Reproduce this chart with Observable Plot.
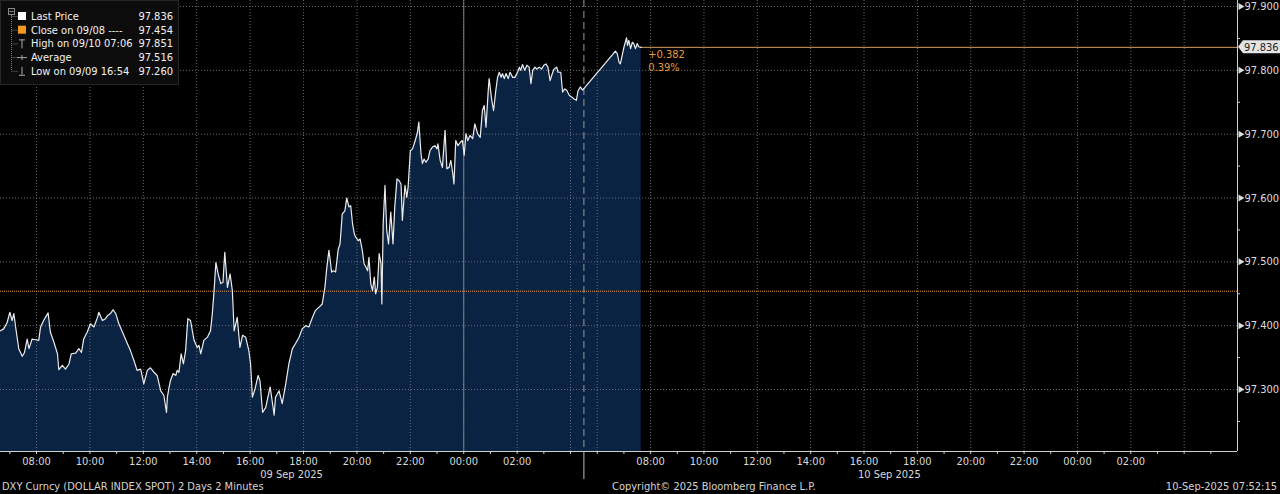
<!DOCTYPE html>
<html>
<head>
<meta charset="utf-8">
<script src="https://cdn.jsdelivr.net/npm/d3@7"></script>
<script src="https://cdn.jsdelivr.net/npm/@observablehq/plot@0.6"></script>
<style>
  html, body { margin:0; padding:0; background:#000; }
  body { width:1280px; height:494px; overflow:hidden; position:relative;
         font-family:"DejaVu Sans Condensed","DejaVu Sans",sans-serif; font-stretch:condensed; }
  #chart { position:absolute; left:0; top:0; }
  #chart svg { font-stretch:condensed; }
  #legend { position:absolute; left:0; top:0; font-stretch:condensed; }
  #footer { position:absolute; left:0; top:480px; width:1280px; height:14px; font-size:11px; color:#d4d4d4; line-height:14px; }
  #footer span { position:absolute; top:0; white-space:nowrap; }
</style>
</head>
<body>
<div id="chart"></div>
<svg id="legend" width="182" height="88"></svg>
<div id="footer"></div>
<script>
// ---- data: minutes since 09 Sep 2025 00:00 and DXY spot price ----
const times = [
 399,406,414,420,425,429,433,440,448,453,459,463,470,478,485,489,496,506,511,519,
 527,530,538,545,553,558,568,575,581,586,594,601,609,617,620,628,635,640,646,652,
 658,665,673,684,691,699,706,714,721,729,736,744,751,759,766,772,774,778,781,787,
 793,796,800,805,810,815,820,826,834,841,845,849,856,864,871,875,879,883,888,894,
 899,903,909,915,920,924,931,937,943,950,957,961,965,971,978,982,988,995,1000,1005,
 1014,1017,1025,1032,1040,1047,1055,1062,1070,1077,1085,1092,1100,1107,1115,1122,1128,1132,1137,1140,
 1143,1147,1152,1158,1162,1167,1173,1177,1182,1186,1190,1194,1197,1203,1207,1212,1216,1220,1224,1227,
 1231,1235,1239,1242,1246,1250,1254,1256,1259,1263,1267,1271,1276,1281,1285,1290,1295,1299,1302,1308,
 1312,1315,1320,1325,1331,1336,1339,1344,1347,1351,1355,1360,1364,1370,1375,1380,1382,1387,1392,1398,
 1402,1407,1411,1415,1418,1422,1427,1432,1437,1441,1445,1449,1454,1460,1465,1471,1477,1482,1486,1490,
 1495,1497,1503,1507,1512,1516,1520,1524,1527,1531,1535,1540,1544,1550,1555,1561,1565,1568,1572,1577,
 1582,1587,1591,1595,1600,1604,1610,1615,1620,1625,1629,1634,1640,1643,1649,1652,1658,1662,1667,1672,
 1677,1683,1688,1693,1697,1702,1707,
 1841,1845,1849,1852,1856,1860,1866,1868,1871,1875,1879,1882,1886,1890,1893,1899
];
const prices = [
 97.392,97.395,97.405,97.421,97.408,97.419,97.398,97.364,97.352,97.358,97.379,97.364,97.379,97.378,97.377,97.398,97.408,97.420,97.390,97.374,
 97.356,97.331,97.338,97.332,97.340,97.356,97.357,97.364,97.358,97.379,97.390,97.403,97.398,97.413,97.421,97.408,97.411,97.416,97.419,97.425,
 97.419,97.403,97.390,97.372,97.361,97.345,97.330,97.332,97.309,97.330,97.334,97.327,97.322,97.298,97.291,97.264,97.288,97.304,97.314,97.325,
 97.322,97.330,97.327,97.356,97.340,97.361,97.411,97.408,97.377,97.366,97.369,97.356,97.377,97.382,97.392,97.419,97.455,97.499,97.481,97.466,
 97.468,97.515,97.460,97.481,97.455,97.392,97.413,97.366,97.385,97.382,97.361,97.340,97.288,97.301,97.322,97.314,97.264,97.272,97.288,97.304,
 97.260,97.288,97.298,97.278,97.309,97.340,97.364,97.372,97.382,97.395,97.400,97.398,97.413,97.424,97.429,97.434,97.460,97.489,97.518,97.502,
 97.484,97.486,97.484,97.520,97.528,97.575,97.580,97.600,97.586,97.588,97.560,97.544,97.539,97.533,97.536,97.518,97.497,97.492,97.486,97.507,
 97.466,97.455,97.476,97.450,97.460,97.513,97.497,97.434,97.560,97.620,97.549,97.528,97.578,97.528,97.586,97.630,97.627,97.622,97.565,97.620,
 97.601,97.617,97.674,97.677,97.690,97.703,97.719,97.669,97.654,97.661,97.656,97.661,97.674,97.680,97.682,97.677,97.685,97.659,97.648,97.706,
 97.646,97.648,97.659,97.640,97.622,97.690,97.682,97.687,97.690,97.667,97.701,97.690,97.698,97.693,97.716,97.701,97.695,97.737,97.745,97.711,
 97.768,97.787,97.753,97.737,97.768,97.789,97.797,97.789,97.795,97.787,97.795,97.787,97.797,97.789,97.789,97.797,97.805,97.800,97.809,97.800,
 97.808,97.805,97.779,97.800,97.805,97.802,97.805,97.802,97.808,97.810,97.805,97.784,97.797,97.802,97.805,97.797,97.797,97.766,97.771,97.768,
 97.761,97.758,97.755,97.753,97.768,97.774,97.769,
 97.830,97.826,97.813,97.810,97.823,97.836,97.851,97.839,97.847,97.834,97.844,97.842,97.834,97.842,97.837,97.836
];
const closePrice = 97.454;
const legendLabels = ["Last Price", "Close on 09/08 ----", "High on 09/10 07:06", "Average", "Low on 09/09 16:54"];
const legendValues = ["97.836", "97.454", "97.851", "97.516", "97.260"];
const yTickValues = [97.3, 97.4, 97.5, 97.6, 97.7, 97.8, 97.9];
const yMinorTicks = [97.25, 97.35, 97.45, 97.55, 97.65, 97.75, 97.85];
// session boundaries (minutes): day-1 start, day-1 end, day-2 start, day-2 end
const sessionBreaks = [399, 1710, 1770, 3240];
const hourTicks = [420,480,540,600,660,720,780,840,900,960,1020,1080,1140,1200,1260,1320,1380,1440,1500,1560,1620,1680,
  1800,1860,1920,1980,2040,2100,2160,2220,2280,2340,2400,2460,2520,2580,2640,2700,2760,2820,2880,2940,3000,3060,3120,3180];
const gridTimes = [480,600,720,840,960,1080,1200,1320,1440,1560,1680,1800,1920,2040,2160,2280,2400,2520,2640,2760,2880,3000,3120];
const labelTimes = [480,600,720,840,960,1080,1200,1320,1440,1560,1920,2040,2160,2280,2400,2520,2640,2760,2880,3000];
const midnights = [1440];
const dateLabels = [{t: 1053, label: "09 Sep 2025"}, {t: 2457, label: "10 Sep 2025"}];
const footerLeft = "DXY Curncy (DOLLAR INDEX SPOT) 2 Days 2 Minutes";
const footerMid = "Copyright\u00a9 2025 Bloomberg Finance L.P.";
const footerRight = "10-Sep-2025 07:52:15";

// ---- build ----
const FONT = '"DejaVu Sans Condensed","DejaVu Sans",sans-serif';
const ORANGE = "#e99a3e";
const yMin = 97.2029, yMax = 97.9094;
const pxPerUnit = 451 / (yMax - yMin);
const data = times.map((t, i) => ({t, p: prices[i]}));
const lastT = times[times.length - 1], lastP = prices[prices.length - 1];
const change = lastP - closePrice;
const fmtHM = m => { const mm = ((m % 1440) + 1440) % 1440; return String(Math.floor(mm / 60)).padStart(2, "0") + ":" + String(mm % 60).padStart(2, "0"); };
const xEnd = sessionBreaks[3];
const xPx = v => v / pxPerUnit; // pixel length -> y units

function lastTag(index, scales, values, dimensions) {
  const x = scales.x(xEnd), y = scales.y(lastP);
  const g = d3.create("svg:g");
  g.append("path")
    .attr("d", `M${x + 1},${y} L${x + 6},${y - 6.5} H${x + 43} V${y + 6.5} H${x + 6} Z`)
    .attr("fill", "#e4e4e4");
  g.append("text").attr("x", x + 7).attr("y", y).attr("dy", "0.35em")
    .attr("text-anchor", "start")
    .attr("fill", "#222").attr("font-size", 11).attr("font-family", FONT)
    .text(lastP.toFixed(3));
  return g.node();
}

const chart = Plot.plot({
  width: 1280, height: 480,
  marginTop: 0, marginRight: 43, marginBottom: 29, marginLeft: 0,
  style: {background: "#000", color: "#d8d8d8", fontFamily: FONT, fontSize: "11px"},
  x: {type: "linear", domain: sessionBreaks, range: [0, 583.4, 583.4, 1237], axis: null},
  y: {domain: [yMin, yMax], range: [451, 0], axis: null},
  marks: [
    Plot.areaY(data, {x: "t", y1: yMin, y2: "p", fill: "#0a2343"}),
    Plot.ruleY(yTickValues, {stroke: "#8a8a8a", strokeOpacity: 0.75, strokeDasharray: "1,2"}),
    Plot.ruleX(gridTimes, {stroke: "#8a8a8a", strokeOpacity: 0.75, strokeDasharray: "1,2"}),
    Plot.ruleX(midnights, {stroke: "#8c8c8c", strokeOpacity: 0.85}),
    Plot.ruleX([sessionBreaks[1]], {stroke: "#9a9a9a", strokeDasharray: "7,4"}),
    Plot.ruleY([closePrice], {stroke: ORANGE, strokeDasharray: "1,1"}),
    Plot.ruleY([lastP], {x1: lastT, x2: xEnd, stroke: "#d79d5e"}),
    Plot.line(data, {x: "t", y: "p", stroke: "#ececec", strokeWidth: 1.2}),
    // axes
    Plot.ruleY([yMin], {stroke: "#cfcfcf"}),
    Plot.ruleX([xEnd], {stroke: "#cfcfcf"}),
    Plot.ruleX(hourTicks, {y1: yMin, y2: yMin - xPx(3), stroke: "#cfcfcf"}),
    Plot.ruleX([sessionBreaks[1]], {y1: yMin, y2: yMin - xPx(28), stroke: "#bdbdbd"}),
    Plot.text(labelTimes, {x: d => d, y: yMin, dy: 10, text: fmtHM, fill: "#d8d8d8", fontSize: 11}),
    Plot.text(dateLabels, {x: "t", y: yMin, dy: 23, text: "label", fill: "#d8d8d8", fontSize: 11}),
    Plot.ruleY(yMinorTicks, {x1: xEnd, x2: xEnd + 3 * 2.2489, stroke: "#cfcfcf"}),
    Plot.dot(yTickValues, {x: xEnd, y: d => d, symbol: "triangle", rotate: 90, r: 2.6, dx: 3, fill: "#dcdcdc", stroke: null}),
    Plot.text(yTickValues, {x: xEnd, y: d => d, dx: 7, textAnchor: "start", text: d => d.toFixed(3), fill: "#dcdcdc", fontSize: 11}),
    lastTag,
    Plot.text([change], {x: lastT, y: lastP, dx: 7, dy: 7, textAnchor: "start", text: d => (d >= 0 ? "+" : "") + d.toFixed(3), fill: ORANGE, fontSize: 11}),
    Plot.text([change], {x: lastT, y: lastP, dx: 7, dy: 20, textAnchor: "start", text: d => (d / closePrice * 100).toFixed(2) + "%", fill: ORANGE, fontSize: 11})
  ]
});
document.getElementById("chart").appendChild(chart);

// ---- legend ----
const lg = d3.select("#legend");
lg.append("rect").attr("x", 0.5).attr("y", 0.5).attr("width", 178).attr("height", 84)
  .attr("fill", "#0c0c0c").attr("stroke", "#262626");
const rowY = i => 16 + i * 13.7;
lg.append("rect").attr("x", 8.5).attr("y", 8.5).attr("width", 6).attr("height", 6).attr("fill", "none").attr("stroke", "#8a8a8a");
lg.append("line").attr("x1", 9.5).attr("x2", 13.5).attr("y1", 11.5).attr("y2", 11.5).attr("stroke", "#8a8a8a");
lg.append("line").attr("x1", 11.5).attr("x2", 11.5).attr("y1", 15).attr("y2", rowY(4))
  .attr("stroke", "#777").attr("stroke-dasharray", "1,1");
legendLabels.forEach((lab, i) => {
  const yc = rowY(i);
  lg.append("line").attr("x1", 11.5).attr("x2", 18).attr("y1", yc + 0.5).attr("y2", yc + 0.5)
    .attr("stroke", "#777").attr("stroke-dasharray", "1,1");
  const c = "#a8a8a8";
  if (i === 0) lg.append("rect").attr("x", 18).attr("y", yc - 4).attr("width", 8).attr("height", 8).attr("fill", "#fff");
  if (i === 1) lg.append("rect").attr("x", 18).attr("y", yc - 4).attr("width", 8).attr("height", 8).attr("fill", "#f29a1e");
  if (i === 2) {
    lg.append("line").attr("x1", 19).attr("x2", 25).attr("y1", yc - 3.5).attr("y2", yc - 3.5).attr("stroke", c);
    lg.append("line").attr("x1", 22).attr("x2", 22).attr("y1", yc - 4).attr("y2", yc + 5).attr("stroke", c);
  }
  if (i === 3) {
    lg.append("line").attr("x1", 17).attr("x2", 27).attr("y1", yc + 0.5).attr("y2", yc + 0.5).attr("stroke", c);
    lg.append("line").attr("x1", 22).attr("x2", 22).attr("y1", yc - 2).attr("y2", yc + 3).attr("stroke", c);
  }
  if (i === 4) {
    lg.append("line").attr("x1", 22).attr("x2", 22).attr("y1", yc - 4).attr("y2", yc + 4).attr("stroke", c);
    lg.append("line").attr("x1", 19).attr("x2", 25).attr("y1", yc + 4.5).attr("y2", yc + 4.5).attr("stroke", c);
  }
  lg.append("text").attr("x", 31).attr("y", yc).attr("dy", "0.36em").attr("fill", "#f2f2f2")
    .attr("font-size", 11).attr("font-family", FONT).text(lab);
  lg.append("text").attr("x", 173).attr("y", yc).attr("dy", "0.36em").attr("text-anchor", "end")
    .attr("fill", "#f2f2f2").attr("font-size", 11).attr("font-family", FONT).text(legendValues[i]);
});

// ---- footer ----
const ft = document.getElementById("footer");
[[footerLeft, "left:2px"], [footerMid, "left:612px"], [footerRight, "right:3px"]].forEach(([t, pos]) => {
  const s = document.createElement("span"); s.textContent = t; s.style.cssText = pos; ft.appendChild(s);
});
</script>
</body>
</html>
